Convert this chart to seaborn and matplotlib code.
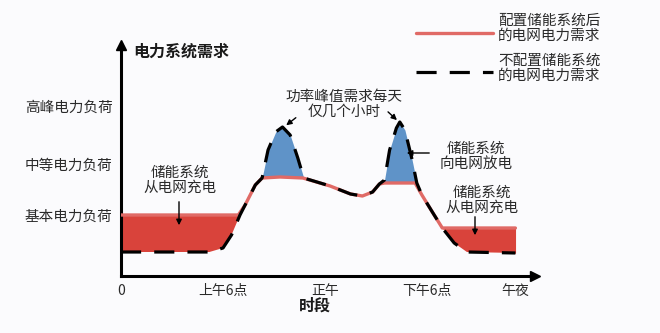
import matplotlib
matplotlib.use("Agg")
import matplotlib.pyplot as plt
import seaborn as sns
import numpy as np
import pandas as pd

# ---------------- data ----------------
# hours of day vs. load (arbitrary units)
with_storage_x = [0, 6.9, 7.3, 7.9, 8.3, 9.35, 10.7, 12.3, 13.5, 14.2, 14.8, 15.2, 15.5, 17.3, 17.7, 18.35, 18.9, 23.2]
with_storage_y = [61, 61, 71, 91, 98, 99, 98, 90, 82, 80, 84, 92, 93, 93, 81, 63, 48, 48]

without_storage_x = [0, 5.2, 6.0, 6.5, 7.0, 7.9, 8.3, 8.65, 9.1, 9.5, 9.95, 10.4, 10.75, 12.3, 13.5, 14.2, 14.8, 15.2,
                     15.5, 15.8, 16.2, 16.4, 16.7, 17.1, 17.4, 17.7, 18.35, 18.9, 19.6, 20.35, 23.2]
without_storage_y = [24, 24, 28, 41, 61, 91, 98, 126, 144, 149, 141, 118, 98, 90, 82, 80, 84, 92,
                     96, 126, 148, 154, 146, 118, 93, 81, 63, 48, 33, 24, 23]

x_tick_pos = [0, 6, 12, 18, 23.2]
x_tick_labels = ["0", "上午6点", "正午", "下午6点", "午夜"]
y_tick_pos = [61, 112, 170]
y_tick_labels = ["基本电力负荷", "中等电力负荷", "高峰电力负荷"]
legend_labels = ["配置储能系统后\n的电网电力需求", "不配置储能系统\n的电网电力需求"]

# ---------------- style ----------------
sns.set_theme(style="white")
plt.rcParams['font.family'] = ['Noto Sans CJK SC', 'DejaVu Sans']

W, H = 660, 333
FS = 10.5
TXT = "#2a2a2a"
DASH = [6.3, 4.1]
fig = plt.figure(figsize=(6.6, 3.33), dpi=100)
fig.patch.set_facecolor("#fbfbfd")
ax = fig.add_axes([121 / W, (H - 276) / H, (535 - 121) / W, (276 - 45) / H])
ax.set_facecolor("none")
ax.set_xlim(0, 414 / 17)
ax.set_ylim(0, 231)

RED_FILL = "#d9433b"
RED_LINE = "#e06a66"
BLUE = "#5f93c8"

# common grid for fills
grid = np.union1d(with_storage_x, without_storage_x)
red_on_grid = np.interp(grid, with_storage_x, with_storage_y)
dash_on_grid = np.interp(grid, without_storage_x, without_storage_y)

# red fill (charging)
ax.fill_between(grid, dash_on_grid, red_on_grid, where=red_on_grid >= dash_on_grid,
                color=RED_FILL, linewidth=0, interpolate=True, zorder=1)
ax.plot([23.2, 23.2], [23, 48], color=RED_FILL, lw=1.5, zorder=1)
# blue fill (discharging)
ax.fill_between(grid, red_on_grid, dash_on_grid, where=dash_on_grid >= red_on_grid,
                color=BLUE, linewidth=0, interpolate=True, zorder=1)

df_red = pd.DataFrame({"x": with_storage_x, "y": with_storage_y})
df_dash = pd.DataFrame({"x": without_storage_x, "y": without_storage_y})
sns.lineplot(data=df_red, x="x", y="y", ax=ax, color=RED_LINE, lw=2.4, sort=False, zorder=3)
sns.lineplot(data=df_dash, x="x", y="y", ax=ax, color="black", lw=2.3, sort=False, zorder=4,
             dashes=False)
ax.lines[-1].set_dashes(DASH)

# axes styling
for s in ["top", "right"]:
    ax.spines[s].set_visible(False)
for s in ["left", "bottom"]:
    ax.spines[s].set_color("black")
    ax.spines[s].set_linewidth(2.2)
ax.plot(1, 0, ">", transform=ax.transAxes, color="black", ms=7, clip_on=False)
ax.plot(0, 1, "^", transform=ax.transAxes, color="black", ms=7, clip_on=False)

ax.set_xticks(x_tick_pos)
ax.set_xticklabels(x_tick_labels, fontsize=10, color=TXT)
ax.set_yticks(y_tick_pos)
ax.set_yticklabels(y_tick_labels, fontsize=FS, color=TXT)
ax.tick_params(axis="both", direction="in", length=5, width=1.8, color="black", pad=6)
ax.set_xlabel("")
ax.set_ylabel("")

fig.text(133 / W, 1 - 52 / H, "电力系统需求", fontsize=11.5, fontweight="bold", va="center", ha="left", color="#1a1a1a")
fig.text(315 / W, 1 - 306 / H, "时段", fontsize=11.5, fontweight="bold", va="center", ha="center", color="#1a1a1a")

# legend (manual)
fig.add_artist(plt.Line2D([416 / W, 493 / W], [1 - 33 / H] * 2, color=RED_LINE, lw=2.4))
dash = plt.Line2D([416 / W, 493 / W], [1 - 72 / H] * 2, color="black", lw=2.3)
dash.set_dashes(DASH)
fig.add_artist(dash)
fig.text(498 / W, 1 - 28 / H, legend_labels[0], fontsize=FS, va="center", ha="left", color=TXT, linespacing=1.1)
fig.text(498 / W, 1 - 68 / H, legend_labels[1], fontsize=FS, va="center", ha="left", color=TXT, linespacing=1.1)

# annotations
def px(xp, yp):
    return ((xp - 121) / 17, 276 - yp)

arrow = dict(arrowstyle="-|>", color="black", lw=1.0, mutation_scale=8)
ax.text(*px(344, 104), "功率峰值需求每天\n仅几个小时", fontsize=FS, ha="center", va="center", color=TXT, linespacing=1.1)
ax.annotate("", xy=px(284, 127), xytext=px(298, 116), arrowprops=arrow)
ax.annotate("", xy=px(399, 122), xytext=px(386, 110), arrowprops=arrow)

ax.text(*px(180, 180), "储能系统\n从电网充电", fontsize=FS, ha="center", va="center", color=TXT, linespacing=1.1)
ax.annotate("", xy=px(179, 228), xytext=px(179, 199), arrowprops=arrow)

ax.text(*px(476, 156), "储能系统\n向电网放电", fontsize=FS, ha="center", va="center", color=TXT, linespacing=1.1)
ax.annotate("", xy=px(404, 153), xytext=px(432, 153), arrowprops=arrow)

ax.text(*px(482, 200), "储能系统\n从电网充电", fontsize=FS, ha="center", va="center", color=TXT, linespacing=1.1)
ax.annotate("", xy=px(475, 238), xytext=px(475, 214), arrowprops=arrow)

fig.savefig("out.png", dpi=100, facecolor=fig.get_facecolor())
